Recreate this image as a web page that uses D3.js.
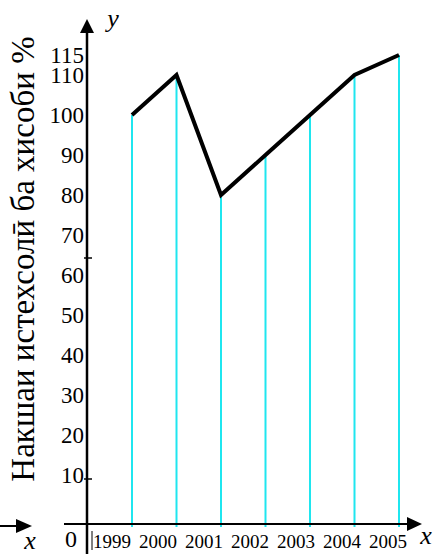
<!DOCTYPE html>
<html>
<head>
<meta charset="utf-8">
<script src="https://cdn.jsdelivr.net/npm/d3@7"></script>
<style>
  body { margin: 0; background: #fff; }
</style>
</head>
<body>
<script>
// chart values
var years = ["1999", "2000", "2001", "2002", "2003", "2004", "2005"];
var plan = [100, 110, 80, 90, 100, 110, 115];
var yTicks = [10, 20, 30, 40, 50, 60, 70, 80, 90, 100, 110, 115];
var yMarks = [10, 60];
var yTitle = "Накшаи истехсолӣ ба хисоби %";

var width = 433, height = 554;
var axisY = 524, axisX = 87;
var serif = "'Liberation Serif'";

var svg = d3.select("body").append("svg")
    .attr("width", width)
    .attr("height", height);

// scales
var xScale = d3.scalePoint().domain(years).range([132, 399]);
var xLabel = d3.scalePoint().domain(years).range([112, 388]);
var yScale = d3.scaleLinear().domain([0, 115]).range([515, 55]);

// cyan drop lines
svg.selectAll("line.drop")
    .data(years)
    .enter().append("line")
    .attr("class", "drop")
    .attr("x1", function(d) { return xScale(d); })
    .attr("x2", function(d) { return xScale(d); })
    .attr("y1", function(d, i) { return yScale(plan[i]); })
    .attr("y2", axisY + 3)
    .attr("stroke", "#1fe6ef")
    .attr("stroke-width", 2);

// axes
svg.append("line")
    .attr("x1", 64).attr("x2", 412)
    .attr("y1", axisY).attr("y2", axisY)
    .attr("stroke", "#000").attr("stroke-width", 2);
svg.append("path")
    .attr("d", "M422," + axisY + " L407," + (axisY - 7) + " L407," + (axisY + 7) + " Z")
    .attr("fill", "#000");

svg.append("line")
    .attr("x1", axisX).attr("x2", axisX)
    .attr("y1", 30).attr("y2", height)
    .attr("stroke", "#000").attr("stroke-width", 2.5);
svg.append("path")
    .attr("d", "M" + axisX + ",19 L" + (axisX - 7) + ",33 L" + (axisX + 7) + ",33 Z")
    .attr("fill", "#000");

// stray arrow on the left
svg.append("line")
    .attr("x1", 0).attr("x2", 20)
    .attr("y1", 526).attr("y2", 526)
    .attr("stroke", "#000").attr("stroke-width", 2);
svg.append("path")
    .attr("d", "M32,526 L16,519 L16,533 Z")
    .attr("fill", "#000");

// short bar next to the origin
svg.append("line")
    .attr("x1", 92).attr("x2", 92)
    .attr("y1", 531).attr("y2", 550)
    .attr("stroke", "#000").attr("stroke-width", 1);

// small tick marks
svg.selectAll("line.mark")
    .data(yMarks)
    .enter().append("line")
    .attr("class", "mark")
    .attr("x1", axisX - 3).attr("x2", axisX + 5)
    .attr("y1", function(d) { return yScale(d) + (d == 60 ? -17 : 4); })
    .attr("y2", function(d) { return yScale(d) + (d == 60 ? -17 : 4); })
    .attr("stroke", "#000").attr("stroke-width", 1.5);

// y tick labels
svg.selectAll("text.ytick")
    .data(yTicks)
    .enter().append("text")
    .attr("class", "ytick")
    .attr("x", 84)
    .attr("y", function(d) { return yScale(d) + 8; })
    .attr("text-anchor", "end")
    .attr("font-size", 23)
    .style("font-family", serif)
    .text(function(d) { return d; });

// x tick labels
svg.selectAll("text.xtick")
    .data(years)
    .enter().append("text")
    .attr("class", "xtick")
    .attr("x", function(d) { return xLabel(d); })
    .attr("y", 548)
    .attr("text-anchor", "middle")
    .attr("font-size", 19)
    .style("font-family", serif)
    .text(function(d) { return d; });

// the line
var line = d3.line()
    .x(function(d, i) { return xScale(years[i]); })
    .y(function(d) { return yScale(d); });

svg.append("path")
    .datum(plan)
    .attr("d", line)
    .attr("fill", "none")
    .attr("stroke", "#000")
    .attr("stroke-width", 4)
    .attr("stroke-linejoin", "miter");

// labels
svg.append("text").attr("x", 71).attr("y", 547)
    .attr("text-anchor", "middle").attr("font-size", 24)
    .style("font-family", serif).text("0");
svg.append("text").attr("x", 113).attr("y", 27)
    .attr("text-anchor", "middle").attr("font-size", 26)
    .style("font-style", "italic").style("font-family", serif).text("y");
svg.append("text").attr("x", 30).attr("y", 549)
    .attr("text-anchor", "middle").attr("font-size", 26)
    .style("font-style", "italic").style("font-family", serif).text("x");
svg.append("text").attr("x", 426).attr("y", 544)
    .attr("text-anchor", "middle").attr("font-size", 26)
    .style("font-style", "italic").style("font-family", serif).text("x");

svg.append("text")
    .attr("transform", "translate(34,259) rotate(-90)")
    .attr("text-anchor", "middle")
    .attr("font-size", 33)
    .style("font-family", serif)
    .text(yTitle);
</script>
</body>
</html>
